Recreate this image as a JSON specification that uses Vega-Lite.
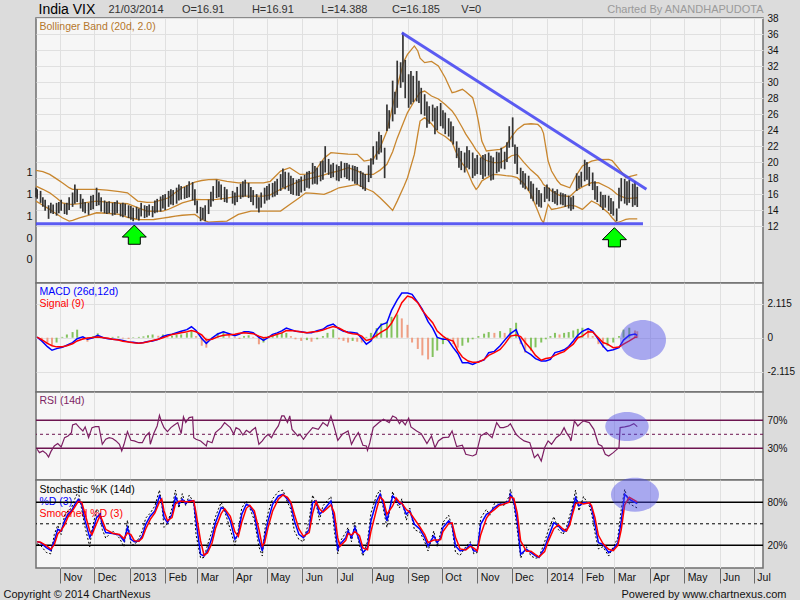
{
"$schema":"https://vega.github.io/schema/vega-lite/v6.json",
"autosize":{"type":"pad"},
"padding":{"left":2,"top":1,"right":10,"bottom":2},
"background":"#dcdcdc",
"spacing":0,
"bounds":"flush",
"config":{
 "view":{"fill":"#f6f6f6","stroke":"#6f6f6f","strokeWidth":1.5},
 "axis":{"labelFont":"Liberation Sans","labelFontSize":10,"labelColor":"#111","titleFont":"Liberation Sans","titleFontSize":10,"titleFontWeight":"normal","gridColor":"#e0e0e0","gridWidth":1,"domain":false,"ticks":false,"labelOverlap":false,"labelFlush":false,"labelBound":false}
},
"datasets":{
"px":[
{"d":"2012-10-11","l":15.6,"h":16.8},{"d":"2012-10-12","l":15.4,"h":16.6},{"d":"2012-10-15","l":14.9,"h":16.4},{"d":"2012-10-17","l":14.4,"h":15.6},{"d":"2012-10-19","l":13.9,"h":15.3},{"d":"2012-10-22","l":12.9,"h":14.6},{"d":"2012-10-24","l":13.6,"h":14.9},{"d":"2012-10-26","l":13.5,"h":14.7},{"d":"2012-10-29","l":13.3,"h":14.9},{"d":"2012-10-31","l":13.6,"h":15.0},
{"d":"2012-11-02","l":13.9,"h":15.3},{"d":"2012-11-05","l":13.5,"h":14.8},{"d":"2012-11-07","l":13.4,"h":14.9},{"d":"2012-11-09","l":14.0,"h":15.6},{"d":"2012-11-12","l":14.4,"h":16.2},{"d":"2012-11-14","l":14.8,"h":17.2},{"d":"2012-11-16","l":15.0,"h":16.6},{"d":"2012-11-19","l":14.2,"h":16.0},{"d":"2012-11-21","l":13.8,"h":15.4},{"d":"2012-11-23","l":13.6,"h":15.0},{"d":"2012-11-26","l":13.4,"h":14.9},{"d":"2012-11-28","l":14.0,"h":15.8},{"d":"2012-11-30","l":14.1,"h":15.9},
{"d":"2012-12-03","l":14.5,"h":16.8},{"d":"2012-12-05","l":14.6,"h":16.2},{"d":"2012-12-07","l":13.8,"h":15.6},{"d":"2012-12-10","l":13.6,"h":15.2},{"d":"2012-12-12","l":13.5,"h":15.0},{"d":"2012-12-14","l":13.6,"h":15.1},{"d":"2012-12-17","l":13.3,"h":14.9},{"d":"2012-12-19","l":13.4,"h":15.0},{"d":"2012-12-21","l":13.6,"h":15.2},{"d":"2012-12-24","l":13.2,"h":14.8},{"d":"2012-12-26","l":13.1,"h":14.9},{"d":"2012-12-28","l":13.3,"h":14.8},{"d":"2012-12-31","l":13.0,"h":14.6},
{"d":"2013-01-02","l":12.8,"h":14.5},{"d":"2013-01-04","l":12.6,"h":14.3},{"d":"2013-01-07","l":12.9,"h":14.4},{"d":"2013-01-09","l":12.7,"h":14.2},{"d":"2013-01-11","l":13.2,"h":14.9},{"d":"2013-01-14","l":13.0,"h":14.6},{"d":"2013-01-16","l":13.1,"h":14.5},{"d":"2013-01-18","l":13.3,"h":14.7},{"d":"2013-01-21","l":13.1,"h":14.5},{"d":"2013-01-23","l":13.6,"h":15.2},{"d":"2013-01-25","l":13.7,"h":15.4},{"d":"2013-01-28","l":13.8,"h":15.7},{"d":"2013-01-30","l":14.2,"h":15.9},
{"d":"2013-02-01","l":14.0,"h":16.0},{"d":"2013-02-04","l":14.4,"h":16.4},{"d":"2013-02-06","l":14.7,"h":16.6},{"d":"2013-02-08","l":14.6,"h":16.5},{"d":"2013-02-11","l":14.8,"h":16.8},{"d":"2013-02-13","l":15.2,"h":17.2},{"d":"2013-02-15","l":15.3,"h":17.0},{"d":"2013-02-18","l":15.4,"h":16.9},{"d":"2013-02-20","l":15.5,"h":17.1},{"d":"2013-02-22","l":15.6,"h":17.6},{"d":"2013-02-25","l":15.2,"h":17.5},{"d":"2013-02-27","l":14.6,"h":16.6},
{"d":"2013-03-01","l":13.6,"h":15.2},{"d":"2013-03-04","l":12.6,"h":14.4},{"d":"2013-03-06","l":12.8,"h":14.3},{"d":"2013-03-08","l":12.6,"h":14.6},{"d":"2013-03-11","l":13.5,"h":15.3},{"d":"2013-03-13","l":14.4,"h":16.3},{"d":"2013-03-15","l":15.1,"h":17.0},{"d":"2013-03-18","l":15.5,"h":17.8},{"d":"2013-03-20","l":15.6,"h":17.6},{"d":"2013-03-22","l":15.3,"h":17.2},{"d":"2013-03-25","l":15.0,"h":16.9},{"d":"2013-03-27","l":14.9,"h":16.6},
{"d":"2013-04-01","l":14.8,"h":16.4},{"d":"2013-04-03","l":14.6,"h":16.2},{"d":"2013-04-05","l":15.0,"h":16.9},{"d":"2013-04-08","l":15.4,"h":17.3},{"d":"2013-04-10","l":15.6,"h":17.6},{"d":"2013-04-12","l":15.7,"h":17.8},{"d":"2013-04-15","l":15.5,"h":17.4},{"d":"2013-04-17","l":15.0,"h":16.9},{"d":"2013-04-19","l":14.6,"h":16.5},{"d":"2013-04-22","l":14.2,"h":16.0},{"d":"2013-04-24","l":13.7,"h":15.6},{"d":"2013-04-26","l":14.3,"h":16.2},{"d":"2013-04-29","l":14.8,"h":16.8},
{"d":"2013-05-01","l":15.2,"h":17.0},{"d":"2013-05-03","l":15.3,"h":17.3},{"d":"2013-05-06","l":15.6,"h":17.4},{"d":"2013-05-08","l":15.7,"h":17.6},{"d":"2013-05-10","l":15.9,"h":17.9},{"d":"2013-05-13","l":16.4,"h":18.5},{"d":"2013-05-15","l":16.8,"h":19.2},{"d":"2013-05-17","l":16.6,"h":18.8},{"d":"2013-05-20","l":16.4,"h":18.7},{"d":"2013-05-22","l":16.0,"h":18.3},{"d":"2013-05-24","l":15.9,"h":18.0},{"d":"2013-05-27","l":15.8,"h":17.8},{"d":"2013-05-29","l":15.75,"h":17.9},{"d":"2013-05-31","l":16.2,"h":18.2},
{"d":"2013-06-03","l":16.4,"h":18.4},{"d":"2013-06-05","l":16.8,"h":18.8},{"d":"2013-06-07","l":16.7,"h":18.9},{"d":"2013-06-10","l":17.2,"h":19.9},{"d":"2013-06-12","l":17.3,"h":19.5},{"d":"2013-06-14","l":17.2,"h":19.3},{"d":"2013-06-17","l":17.6,"h":20.1},{"d":"2013-06-19","l":17.8,"h":20.2},{"d":"2013-06-21","l":18.7,"h":22.0},{"d":"2013-06-24","l":18.4,"h":20.4},{"d":"2013-06-26","l":18.0,"h":19.7},{"d":"2013-06-28","l":18.1,"h":19.9},
{"d":"2013-07-01","l":17.7,"h":19.7},{"d":"2013-07-03","l":17.6,"h":19.5},{"d":"2013-07-05","l":18.0,"h":20.1},{"d":"2013-07-08","l":18.1,"h":19.9},{"d":"2013-07-10","l":17.9,"h":19.9},{"d":"2013-07-12","l":17.7,"h":19.7},{"d":"2013-07-15","l":17.6,"h":19.6},{"d":"2013-07-17","l":17.3,"h":19.5},{"d":"2013-07-19","l":17.2,"h":19.4},{"d":"2013-07-22","l":16.9,"h":18.9},{"d":"2013-07-24","l":16.6,"h":18.7},{"d":"2013-07-26","l":16.4,"h":18.5},{"d":"2013-07-29","l":17.5,"h":19.6},{"d":"2013-07-31","l":18.0,"h":20.5},
{"d":"2013-08-02","l":19.7,"h":22.0},{"d":"2013-08-05","l":20.3,"h":22.6},{"d":"2013-08-07","l":21.0,"h":23.8},{"d":"2013-08-09","l":21.2,"h":23.4},{"d":"2013-08-12","l":18.0,"h":21.8},{"d":"2013-08-14","l":23.9,"h":27.2},{"d":"2013-08-16","l":24.2,"h":26.5},{"d":"2013-08-19","l":25.1,"h":30.2},{"d":"2013-08-21","l":26.0,"h":28.8},{"d":"2013-08-23","l":26.8,"h":32.7},{"d":"2013-08-26","l":29.3,"h":32.5},{"d":"2013-08-28","l":30.0,"h":36.2},{"d":"2013-08-30","l":28.0,"h":32.8},
{"d":"2013-09-02","l":26.8,"h":31.0},{"d":"2013-09-04","l":27.2,"h":31.4},{"d":"2013-09-06","l":27.5,"h":30.8},{"d":"2013-09-09","l":27.6,"h":31.4},{"d":"2013-09-11","l":27.4,"h":30.2},{"d":"2013-09-13","l":26.0,"h":29.3},{"d":"2013-09-16","l":25.8,"h":28.5},{"d":"2013-09-18","l":24.3,"h":27.6},{"d":"2013-09-20","l":24.8,"h":27.0},{"d":"2013-09-23","l":25.1,"h":27.2},{"d":"2013-09-25","l":23.5,"h":26.8},{"d":"2013-09-27","l":24.0,"h":27.0},{"d":"2013-09-30","l":24.5,"h":27.4},
{"d":"2013-10-02","l":24.2,"h":26.5},{"d":"2013-10-04","l":23.5,"h":26.2},{"d":"2013-10-07","l":23.2,"h":25.5},{"d":"2013-10-09","l":22.6,"h":25.1},{"d":"2013-10-11","l":22.2,"h":24.5},{"d":"2013-10-14","l":20.5,"h":22.6},{"d":"2013-10-16","l":19.3,"h":21.8},{"d":"2013-10-18","l":19.0,"h":21.4},{"d":"2013-10-21","l":18.7,"h":21.2},{"d":"2013-10-23","l":19.3,"h":22.0},{"d":"2013-10-25","l":19.1,"h":21.5},{"d":"2013-10-28","l":18.0,"h":21.2},{"d":"2013-10-30","l":18.3,"h":20.5},
{"d":"2013-11-01","l":18.5,"h":20.9},{"d":"2013-11-04","l":18.4,"h":20.6},{"d":"2013-11-06","l":17.9,"h":20.9},{"d":"2013-11-08","l":18.2,"h":21.0},{"d":"2013-11-11","l":18.3,"h":21.2},{"d":"2013-11-13","l":17.7,"h":20.8},{"d":"2013-11-15","l":17.8,"h":20.6},{"d":"2013-11-18","l":18.6,"h":21.3},{"d":"2013-11-20","l":18.8,"h":21.2},{"d":"2013-11-22","l":19.2,"h":21.8},{"d":"2013-11-25","l":19.1,"h":21.3},{"d":"2013-11-27","l":20.0,"h":22.5},{"d":"2013-11-29","l":21.8,"h":24.5},
{"d":"2013-12-02","l":21.9,"h":25.6},{"d":"2013-12-04","l":19.8,"h":22.2},{"d":"2013-12-06","l":18.5,"h":21.9},{"d":"2013-12-09","l":17.2,"h":19.3},{"d":"2013-12-11","l":16.8,"h":18.9},{"d":"2013-12-13","l":16.6,"h":18.6},{"d":"2013-12-16","l":16.4,"h":18.3},{"d":"2013-12-18","l":15.4,"h":17.6},{"d":"2013-12-20","l":15.1,"h":17.3},{"d":"2013-12-23","l":14.7,"h":16.8},{"d":"2013-12-25","l":14.4,"h":16.5},{"d":"2013-12-27","l":14.3,"h":16.1},{"d":"2013-12-30","l":15.0,"h":16.9},
{"d":"2014-01-01","l":15.4,"h":17.2},{"d":"2014-01-03","l":15.1,"h":16.8},{"d":"2014-01-06","l":15.0,"h":16.7},{"d":"2014-01-08","l":14.8,"h":16.4},{"d":"2014-01-10","l":14.6,"h":16.6},{"d":"2014-01-13","l":14.7,"h":16.2},{"d":"2014-01-15","l":14.6,"h":16.1},{"d":"2014-01-17","l":14.4,"h":16.0},{"d":"2014-01-20","l":14.2,"h":15.8},{"d":"2014-01-22","l":13.9,"h":15.6},{"d":"2014-01-24","l":14.1,"h":15.8},{"d":"2014-01-27","l":16.4,"h":18.6},{"d":"2014-01-29","l":16.7,"h":18.3},{"d":"2014-01-31","l":16.9,"h":18.8},
{"d":"2014-02-03","l":17.6,"h":20.3},{"d":"2014-02-05","l":17.8,"h":20.0},{"d":"2014-02-07","l":17.0,"h":19.4},{"d":"2014-02-10","l":16.5,"h":18.7},{"d":"2014-02-12","l":15.3,"h":17.6},{"d":"2014-02-14","l":15.0,"h":17.0},{"d":"2014-02-17","l":14.4,"h":16.3},{"d":"2014-02-19","l":14.0,"h":15.9},{"d":"2014-02-21","l":14.3,"h":15.9},{"d":"2014-02-24","l":13.9,"h":15.8},{"d":"2014-02-26","l":13.5,"h":15.5},{"d":"2014-02-28","l":13.3,"h":15.1},
{"d":"2014-03-03","l":12.6,"h":14.2},{"d":"2014-03-05","l":14.2,"h":16.8},{"d":"2014-03-07","l":15.1,"h":18.0},{"d":"2014-03-10","l":14.8,"h":17.9},{"d":"2014-03-12","l":14.6,"h":17.6},{"d":"2014-03-14","l":14.9,"h":17.8},{"d":"2014-03-17","l":14.4,"h":17.3},{"d":"2014-03-19","l":14.6,"h":17.6},{"d":"2014-03-21","l":14.388,"h":16.91}
],
"bb":[
{"d":"2012-10-11","u":18.97,"m":17.0,"lo":15.12},{"d":"2012-10-17","u":18.8,"m":16.6,"lo":14.6},{"d":"2012-10-23","u":18.46,"m":16.16,"lo":14.08},{"d":"2012-10-29","u":17.9,"m":15.5,"lo":13.5},{"d":"2012-11-03","u":17.41,"m":14.91,"lo":13.03},{"d":"2012-11-09","u":16.8,"m":14.75,"lo":12.61},{"d":"2012-11-12","u":16.58,"m":14.7,"lo":12.7},{"d":"2012-11-18","u":16.58,"m":14.8,"lo":13.03},{"d":"2012-11-25","u":16.58,"m":14.95,"lo":13.3},{"d":"2012-12-03","u":16.58,"m":15.12,"lo":13.66},{"d":"2012-12-12","u":16.5,"m":15.0,"lo":13.6},{"d":"2012-12-23","u":16.3,"m":14.85,"lo":13.45},{"d":"2012-12-30","u":16.16,"m":14.79,"lo":13.1},
{"d":"2013-01-08","u":15.12,"m":14.3,"lo":12.82},{"d":"2013-01-16","u":14.95,"m":13.87,"lo":12.8},{"d":"2013-01-22","u":15.0,"m":13.85,"lo":12.82},{"d":"2013-01-30","u":15.3,"m":13.87,"lo":13.0},{"d":"2013-02-04","u":15.54,"m":14.1,"lo":13.1},{"d":"2013-02-10","u":16.2,"m":14.5,"lo":13.24},{"d":"2013-02-16","u":16.79,"m":14.91,"lo":13.35},{"d":"2013-02-27","u":17.5,"m":15.33,"lo":13.45},{"d":"2013-03-05","u":17.7,"m":15.3,"lo":12.82},{"d":"2013-03-11","u":17.8,"m":15.3,"lo":12.49},{"d":"2013-03-18","u":17.83,"m":15.33,"lo":12.55},{"d":"2013-03-27","u":17.6,"m":15.5,"lo":12.61},{"d":"2013-04-06","u":17.41,"m":15.75,"lo":13.45},{"d":"2013-04-17","u":17.41,"m":15.75,"lo":13.87},{"d":"2013-04-28","u":17.41,"m":15.75,"lo":13.87},{"d":"2013-05-04","u":17.6,"m":15.9,"lo":13.87},
{"d":"2013-05-13","u":18.88,"m":16.6,"lo":13.87},{"d":"2013-05-21","u":19.3,"m":17.1,"lo":14.7},{"d":"2013-05-30","u":18.46,"m":17.63,"lo":15.6},{"d":"2013-06-04","u":18.5,"m":17.8,"lo":16.16},{"d":"2013-06-11","u":18.67,"m":18.05,"lo":16.1},{"d":"2013-06-20","u":20.5,"m":18.4,"lo":15.96},{"d":"2013-06-26","u":21.18,"m":18.67,"lo":16.3},{"d":"2013-07-03","u":21.1,"m":18.9,"lo":16.79},{"d":"2013-07-11","u":21.0,"m":19.3,"lo":17.0},{"d":"2013-07-19","u":20.97,"m":18.9,"lo":17.21},{"d":"2013-07-25","u":20.13,"m":18.46,"lo":16.79},{"d":"2013-08-02","u":20.34,"m":18.46,"lo":16.3},{"d":"2013-08-08","u":21.8,"m":19.0,"lo":15.54},{"d":"2013-08-14","u":23.89,"m":19.72,"lo":14.7},{"d":"2013-08-19","u":27.0,"m":21.3,"lo":13.95},{"d":"2013-08-23","u":29.5,"m":23.0,"lo":15.12},{"d":"2013-08-29","u":32.66,"m":25.14,"lo":17.0},
{"d":"2013-09-01","u":33.49,"m":26.2,"lo":18.05},{"d":"2013-09-07","u":34.54,"m":27.65,"lo":20.97},{"d":"2013-09-10","u":33.91,"m":28.3,"lo":23.5},{"d":"2013-09-12","u":33.0,"m":28.7,"lo":25.14},{"d":"2013-09-16","u":32.45,"m":28.9,"lo":25.56},{"d":"2013-09-22","u":32.6,"m":28.28,"lo":24.8},{"d":"2013-09-28","u":32.03,"m":27.9,"lo":23.7},{"d":"2013-10-04","u":30.57,"m":27.2,"lo":23.2},{"d":"2013-10-10","u":28.69,"m":26.4,"lo":22.5},{"d":"2013-10-13","u":28.8,"m":25.8,"lo":21.39},{"d":"2013-10-19","u":29.11,"m":24.31,"lo":19.8},{"d":"2013-10-22","u":28.8,"m":23.5,"lo":19.3},{"d":"2013-10-28","u":28.07,"m":22.22,"lo":17.3},{"d":"2013-10-31","u":26.5,"m":21.5,"lo":16.58},
{"d":"2013-11-02","u":25.14,"m":21.2,"lo":16.9},{"d":"2013-11-05","u":22.64,"m":20.55,"lo":17.63},{"d":"2013-11-09","u":21.39,"m":20.2,"lo":18.0},{"d":"2013-11-15","u":21.5,"m":19.93,"lo":18.46},{"d":"2013-11-21","u":21.6,"m":19.93,"lo":18.4},{"d":"2013-11-26","u":22.0,"m":20.3,"lo":18.3},{"d":"2013-12-01","u":23.2,"m":20.8,"lo":18.25},{"d":"2013-12-06","u":24.1,"m":20.97,"lo":18.05},{"d":"2013-12-12","u":24.72,"m":19.93,"lo":17.3},{"d":"2013-12-18","u":24.8,"m":19.0,"lo":15.96},{"d":"2013-12-24","u":24.72,"m":18.26,"lo":13.87},{"d":"2013-12-27","u":24.3,"m":17.7,"lo":12.8},{"d":"2013-12-29","u":23.6,"m":17.2,"lo":12.41},
{"d":"2014-01-02","u":20.13,"m":16.79,"lo":14.7},{"d":"2014-01-05","u":18.88,"m":16.4,"lo":14.08},{"d":"2014-01-10","u":17.7,"m":15.96,"lo":14.2},{"d":"2014-01-13","u":17.21,"m":15.8,"lo":14.29},{"d":"2014-01-21","u":16.79,"m":15.7,"lo":14.62},{"d":"2014-01-26","u":18.2,"m":16.38,"lo":14.5},{"d":"2014-02-01","u":19.51,"m":16.9,"lo":14.08},{"d":"2014-02-09","u":20.13,"m":17.42,"lo":15.13},{"d":"2014-02-15","u":20.3,"m":17.42,"lo":14.7},{"d":"2014-02-24","u":20.34,"m":16.79,"lo":13.6},{"d":"2014-02-27","u":20.2,"m":16.5,"lo":13.04},{"d":"2014-03-03","u":19.51,"m":16.0,"lo":12.41},{"d":"2014-03-07","u":18.8,"m":15.7,"lo":12.6},{"d":"2014-03-11","u":18.05,"m":15.5,"lo":12.83},{"d":"2014-03-14","u":18.2,"m":15.46,"lo":12.9},{"d":"2014-03-21","u":18.45,"m":15.54,"lo":12.9}
],
"macd":[
{"d":"2012-10-12","m":0.04,"s":0.04,"h":0,"c":"g"},{"d":"2012-10-16","m":-0.2,"s":-0.12,"h":-0.1,"c":"r"},{"d":"2012-10-21","m":-0.56,"s":-0.35,"h":-0.4,"c":"r"},{"d":"2012-10-25","m":-0.78,"s":-0.5,"h":-0.5,"c":"r"},{"d":"2012-10-29","m":-0.68,"s":-0.57,"h":-0.3,"c":"g"},{"d":"2012-11-03","m":-0.6,"s":-0.56,"h":0.05,"c":"g"},{"d":"2012-11-07","m":-0.47,"s":-0.5,"h":0.2,"c":"g"},{"d":"2012-11-12","m":-0.31,"s":-0.38,"h":0.35,"c":"g"},{"d":"2012-11-16","m":-0.06,"s":-0.2,"h":0.5,"c":"g"},{"d":"2012-11-21","m":0.05,"s":-0.08,"h":-0.1,"c":"r"},{"d":"2012-11-25","m":-0.1,"s":-0.02,"h":-0.25,"c":"r"},{"d":"2012-11-30","m":0.0,"s":0.02,"h":0.1,"c":"g"},
{"d":"2012-12-04","m":0.15,"s":0.04,"h":0.27,"c":"g"},{"d":"2012-12-09","m":0.0,"s":0.0,"h":0.05,"c":"r"},{"d":"2012-12-13","m":-0.06,"s":-0.04,"h":-0.05,"c":"r"},{"d":"2012-12-17","m":-0.09,"s":-0.1,"h":0.05,"c":"g"},{"d":"2012-12-22","m":-0.12,"s":-0.15,"h":0.08,"c":"g"},{"d":"2012-12-26","m":-0.17,"s":-0.22,"h":-0.05,"c":"r"},{"d":"2012-12-31","m":-0.26,"s":-0.27,"h":-0.08,"c":"r"},
{"d":"2013-01-04","m":-0.29,"s":-0.32,"h":0.03,"c":"g"},{"d":"2013-01-09","m":-0.34,"s":-0.35,"h":0.05,"c":"g"},{"d":"2013-01-13","m":-0.3,"s":-0.31,"h":0.08,"c":"g"},{"d":"2013-01-17","m":-0.23,"s":-0.25,"h":0.15,"c":"g"},{"d":"2013-01-21","m":-0.21,"s":-0.17,"h":0.2,"c":"g"},{"d":"2013-01-26","m":-0.1,"s":-0.1,"h":0.12,"c":"r"},{"d":"2013-01-30","m":0.08,"s":0.0,"h":0.2,"c":"g"},
{"d":"2013-02-03","m":0.17,"s":0.1,"h":0.05,"c":"r"},{"d":"2013-02-07","m":0.21,"s":0.2,"h":0.12,"c":"g"},{"d":"2013-02-11","m":0.31,"s":0.25,"h":0.18,"c":"g"},{"d":"2013-02-15","m":0.4,"s":0.31,"h":0.2,"c":"g"},{"d":"2013-02-20","m":0.5,"s":0.37,"h":0.3,"c":"g"},{"d":"2013-02-24","m":0.68,"s":0.44,"h":0.41,"c":"g"},{"d":"2013-02-28","m":0.45,"s":0.37,"h":0.1,"c":"r"},
{"d":"2013-03-05","m":-0.05,"s":0.17,"h":-0.5,"c":"r"},{"d":"2013-03-09","m":-0.35,"s":-0.14,"h":-0.62,"c":"r"},{"d":"2013-03-14","m":-0.02,"s":-0.1,"h":-0.1,"c":"g"},{"d":"2013-03-19","m":0.23,"s":0.05,"h":0.3,"c":"g"},{"d":"2013-03-24","m":0.37,"s":0.15,"h":0.41,"c":"g"},{"d":"2013-03-29","m":0.25,"s":0.18,"h":0.3,"c":"r"},
{"d":"2013-04-03","m":0.12,"s":0.21,"h":0.05,"c":"r"},{"d":"2013-04-07","m":0.23,"s":0.27,"h":-0.08,"c":"r"},{"d":"2013-04-11","m":0.37,"s":0.31,"h":0.1,"c":"g"},{"d":"2013-04-15","m":0.37,"s":0.27,"h":0.15,"c":"g"},{"d":"2013-04-19","m":0.31,"s":0.25,"h":0.05,"c":"r"},{"d":"2013-04-24","m":0.02,"s":0.1,"h":-0.41,"c":"r"},{"d":"2013-04-28","m":-0.17,"s":0.0,"h":-0.3,"c":"g"},
{"d":"2013-05-02","m":0.0,"s":0.03,"h":0.1,"c":"g"},{"d":"2013-05-06","m":0.21,"s":0.12,"h":0.2,"c":"g"},{"d":"2013-05-10","m":0.3,"s":0.21,"h":0.25,"c":"g"},{"d":"2013-05-14","m":0.42,"s":0.3,"h":0.3,"c":"g"},{"d":"2013-05-18","m":0.6,"s":0.45,"h":0.3,"c":"g"},{"d":"2013-05-22","m":0.5,"s":0.44,"h":0.1,"c":"r"},{"d":"2013-05-26","m":0.4,"s":0.41,"h":-0.1,"c":"r"},{"d":"2013-05-31","m":0.37,"s":0.35,"h":-0.2,"c":"r"},
{"d":"2013-06-05","m":0.31,"s":0.31,"h":-0.15,"c":"g"},{"d":"2013-06-09","m":0.31,"s":0.35,"h":-0.25,"c":"r"},{"d":"2013-06-14","m":0.44,"s":0.38,"h":-0.1,"c":"g"},{"d":"2013-06-19","m":0.52,"s":0.48,"h":0.1,"c":"g"},{"d":"2013-06-23","m":0.73,"s":0.58,"h":0.3,"c":"g"},{"d":"2013-06-28","m":0.85,"s":0.7,"h":0.52,"c":"g"},
{"d":"2013-07-03","m":0.55,"s":0.6,"h":-0.1,"c":"r"},{"d":"2013-07-07","m":0.4,"s":0.45,"h":-0.2,"c":"r"},{"d":"2013-07-11","m":0.35,"s":0.31,"h":-0.3,"c":"r"},{"d":"2013-07-15","m":0.33,"s":0.25,"h":-0.2,"c":"g"},{"d":"2013-07-19","m":0.28,"s":0.21,"h":-0.25,"c":"r"},{"d":"2013-07-23","m":-0.05,"s":0.1,"h":-0.3,"c":"r"},{"d":"2013-07-27","m":-0.4,"s":-0.17,"h":0.05,"c":"g"},{"d":"2013-07-31","m":-0.2,"s":-0.1,"h":0.3,"c":"g"},
{"d":"2013-08-05","m":0.45,"s":0.15,"h":0.6,"c":"g"},{"d":"2013-08-09","m":0.8,"s":0.35,"h":0.9,"c":"g"},{"d":"2013-08-14","m":0.93,"s":0.55,"h":1.0,"c":"g"},{"d":"2013-08-18","m":1.7,"s":0.9,"h":1.3,"c":"g"},{"d":"2013-08-23","m":2.35,"s":1.55,"h":1.45,"c":"g"},{"d":"2013-08-27","m":2.78,"s":2.18,"h":1.2,"c":"r"},
{"d":"2013-09-01","m":2.78,"s":2.59,"h":0.8,"c":"r"},{"d":"2013-09-05","m":2.7,"s":2.5,"h":-0.3,"c":"r"},{"d":"2013-09-10","m":2.2,"s":2.18,"h":-0.7,"c":"r"},{"d":"2013-09-14","m":1.76,"s":1.7,"h":-1.1,"c":"r"},{"d":"2013-09-19","m":1.0,"s":1.25,"h":-1.35,"c":"r"},{"d":"2013-09-23","m":0.6,"s":0.93,"h":-1.2,"c":"g"},{"d":"2013-09-27","m":0.02,"s":0.41,"h":-0.8,"c":"g"},
{"d":"2013-10-02","m":-0.1,"s":0.1,"h":-0.4,"c":"g"},{"d":"2013-10-06","m":-0.1,"s":-0.1,"h":-0.2,"c":"g"},{"d":"2013-10-11","m":-0.62,"s":-0.21,"h":-0.4,"c":"r"},{"d":"2013-10-15","m":-0.98,"s":-0.8,"h":-0.62,"c":"r"},{"d":"2013-10-19","m":-1.56,"s":-1.2,"h":-0.5,"c":"g"},{"d":"2013-10-24","m":-1.56,"s":-1.45,"h":-0.3,"c":"g"},{"d":"2013-10-28","m":-1.66,"s":-1.52,"h":-0.1,"c":"g"},
{"d":"2013-11-02","m":-1.5,"s":-1.52,"h":0.1,"c":"g"},{"d":"2013-11-07","m":-1.38,"s":-1.35,"h":0.25,"c":"g"},{"d":"2013-11-11","m":-0.93,"s":-1.1,"h":0.35,"c":"g"},{"d":"2013-11-16","m":-0.85,"s":-0.93,"h":0.3,"c":"r"},{"d":"2013-11-21","m":-0.5,"s":-0.73,"h":0.41,"c":"g"},{"d":"2013-11-25","m":-0.15,"s":-0.4,"h":0.3,"c":"r"},{"d":"2013-11-30","m":0.25,"s":0.1,"h":0.6,"c":"g"},
{"d":"2013-12-05","m":0.5,"s":0.17,"h":0.93,"c":"g"},{"d":"2013-12-09","m":-0.2,"s":0.07,"h":-0.4,"c":"r"},{"d":"2013-12-13","m":-0.83,"s":-0.3,"h":-0.93,"c":"r"},{"d":"2013-12-18","m":-1.05,"s":-0.7,"h":-0.8,"c":"g"},{"d":"2013-12-22","m":-1.3,"s":-1.1,"h":-0.6,"c":"g"},{"d":"2013-12-27","m":-1.45,"s":-1.4,"h":-0.3,"c":"g"},{"d":"2013-12-31","m":-1.45,"s":-1.3,"h":-0.1,"c":"g"},
{"d":"2014-01-04","m":-1.35,"s":-1.25,"h":0.1,"c":"g"},{"d":"2014-01-08","m":-0.93,"s":-1.1,"h":0.3,"c":"g"},{"d":"2014-01-12","m":-0.85,"s":-0.97,"h":0.2,"c":"r"},{"d":"2014-01-16","m":-0.75,"s":-0.87,"h":0.3,"c":"g"},{"d":"2014-01-20","m":-0.55,"s":-0.62,"h":0.35,"c":"g"},{"d":"2014-01-24","m":-0.21,"s":-0.4,"h":0.45,"c":"g"},{"d":"2014-01-28","m":0.15,"s":0.0,"h":0.55,"c":"g"},
{"d":"2014-02-01","m":0.4,"s":0.1,"h":0.62,"c":"g"},{"d":"2014-02-06","m":0.56,"s":0.37,"h":0.5,"c":"r"},{"d":"2014-02-10","m":0.4,"s":0.35,"h":0.1,"c":"r"},{"d":"2014-02-15","m":-0.1,"s":0.0,"h":-0.4,"c":"r"},{"d":"2014-02-19","m":-0.52,"s":-0.3,"h":-0.62,"c":"r"},{"d":"2014-02-23","m":-0.83,"s":-0.4,"h":-0.5,"c":"g"},{"d":"2014-02-28","m":-0.75,"s":-0.62,"h":-0.3,"c":"g"},
{"d":"2014-03-05","m":-0.62,"s":-0.58,"h":0.1,"c":"g"},{"d":"2014-03-09","m":-0.15,"s":-0.4,"h":0.5,"c":"g"},{"d":"2014-03-14","m":0.15,"s":-0.2,"h":0.62,"c":"g"},{"d":"2014-03-19","m":0.23,"s":0.02,"h":0.45,"c":"r"},{"d":"2014-03-21","m":0.15,"s":0.05,"h":0.4,"c":"r"}
],
"rsi":[
{"d":"2012-10-12","r":28.6},{"d":"2012-10-14","r":23.8},{"d":"2012-10-17","r":26.2},{"d":"2012-10-20","r":22.4},{"d":"2012-10-22","r":17.6},{"d":"2012-10-24","r":25.2},{"d":"2012-10-27","r":33.3},{"d":"2012-10-30","r":36.7},{"d":"2012-11-02","r":31.9},{"d":"2012-11-05","r":45.2},{"d":"2012-11-08","r":47.6},{"d":"2012-11-11","r":52.4},{"d":"2012-11-12","r":63.3},{"d":"2012-11-15","r":65.2},{"d":"2012-11-18","r":59.5},{"d":"2012-11-21","r":54.8},{"d":"2012-11-23","r":60.5},{"d":"2012-11-26","r":45.2},{"d":"2012-11-29","r":59.5},
{"d":"2012-12-02","r":61},{"d":"2012-12-05","r":61},{"d":"2012-12-08","r":35.7},{"d":"2012-12-11","r":42.9},{"d":"2012-12-14","r":45.2},{"d":"2012-12-17","r":44},{"d":"2012-12-20","r":40.5},{"d":"2012-12-23","r":35.7},{"d":"2012-12-25","r":26.2},{"d":"2012-12-27","r":35.7},{"d":"2012-12-30","r":53.8},
{"d":"2013-01-02","r":41.4},{"d":"2013-01-05","r":40.5},{"d":"2013-01-09","r":38},{"d":"2013-01-12","r":38},{"d":"2013-01-15","r":47.6},{"d":"2013-01-18","r":52.4},{"d":"2013-01-19","r":35.7},{"d":"2013-01-22","r":51},{"d":"2013-01-25","r":61.9},{"d":"2013-01-27","r":77.1},{"d":"2013-01-29","r":66.7},{"d":"2013-01-31","r":59.5},
{"d":"2013-02-03","r":53.8},{"d":"2013-02-06","r":59.5},{"d":"2013-02-09","r":63.3},{"d":"2013-02-12","r":66.7},{"d":"2013-02-15","r":51},{"d":"2013-02-17","r":74.8},{"d":"2013-02-19","r":66.7},{"d":"2013-02-22","r":73.8},{"d":"2013-02-25","r":74.8},{"d":"2013-02-26","r":45.2},{"d":"2013-02-28","r":42.9},
{"d":"2013-03-04","r":40.5},{"d":"2013-03-09","r":33.3},{"d":"2013-03-10","r":40.5},{"d":"2013-03-14","r":38},{"d":"2013-03-17","r":52.4},{"d":"2013-03-22","r":59.5},{"d":"2013-03-25","r":66.7},{"d":"2013-03-30","r":59.5},
{"d":"2013-04-02","r":50},{"d":"2013-04-04","r":59.5},{"d":"2013-04-07","r":57},{"d":"2013-04-10","r":49},{"d":"2013-04-13","r":55.7},{"d":"2013-04-16","r":52.4},{"d":"2013-04-18","r":55.7},{"d":"2013-04-21","r":59.5},{"d":"2013-04-24","r":35.7},{"d":"2013-04-27","r":40.5},{"d":"2013-04-29","r":45.2},
{"d":"2013-05-02","r":50},{"d":"2013-05-05","r":45.2},{"d":"2013-05-08","r":54.8},{"d":"2013-05-11","r":61.9},{"d":"2013-05-14","r":76.2},{"d":"2013-05-16","r":76.2},{"d":"2013-05-19","r":66.7},{"d":"2013-05-21","r":76.2},{"d":"2013-05-23","r":57},{"d":"2013-05-28","r":47.6},{"d":"2013-05-30","r":50},
{"d":"2013-06-02","r":42.9},{"d":"2013-06-05","r":50},{"d":"2013-06-10","r":59.5},{"d":"2013-06-15","r":57},{"d":"2013-06-19","r":66.7},{"d":"2013-06-23","r":61.9},{"d":"2013-06-26","r":76.2},{"d":"2013-06-29","r":59.5},
{"d":"2013-07-02","r":41.4},{"d":"2013-07-06","r":50},{"d":"2013-07-11","r":54.8},{"d":"2013-07-14","r":35.7},{"d":"2013-07-17","r":45.2},{"d":"2013-07-20","r":52.4},{"d":"2013-07-24","r":34.3},{"d":"2013-07-27","r":33.3},{"d":"2013-07-28","r":27.1},{"d":"2013-07-30","r":37.6},
{"d":"2013-08-02","r":59.5},{"d":"2013-08-07","r":66.7},{"d":"2013-08-11","r":71.4},{"d":"2013-08-16","r":66.7},{"d":"2013-08-19","r":76.2},{"d":"2013-08-22","r":73.8},{"d":"2013-08-25","r":65.2},{"d":"2013-08-27","r":70},{"d":"2013-08-30","r":63.3},
{"d":"2013-09-02","r":72.9},{"d":"2013-09-04","r":60.5},{"d":"2013-09-09","r":54.8},{"d":"2013-09-13","r":51},{"d":"2013-09-18","r":36.7},{"d":"2013-09-22","r":47.6},{"d":"2013-09-25","r":31},{"d":"2013-09-28","r":40.5},
{"d":"2013-10-02","r":45.2},{"d":"2013-10-07","r":46},{"d":"2013-10-10","r":54.8},{"d":"2013-10-14","r":32.4},{"d":"2013-10-19","r":34.3},{"d":"2013-10-22","r":21.4},{"d":"2013-10-28","r":19},{"d":"2013-10-31","r":21.4},
{"d":"2013-11-04","r":47.6},{"d":"2013-11-09","r":52.4},{"d":"2013-11-14","r":45.2},{"d":"2013-11-18","r":66.7},{"d":"2013-11-21","r":59.5},{"d":"2013-11-24","r":59.5},{"d":"2013-11-28","r":61.9},{"d":"2013-11-30","r":65.2},
{"d":"2013-12-05","r":50},{"d":"2013-12-08","r":45.2},{"d":"2013-12-12","r":40.5},{"d":"2013-12-17","r":38},{"d":"2013-12-21","r":16.7},{"d":"2013-12-24","r":21.4},{"d":"2013-12-27","r":11.9},{"d":"2013-12-30","r":31},
{"d":"2014-01-02","r":40.5},{"d":"2014-01-05","r":35.7},{"d":"2014-01-09","r":45.2},{"d":"2014-01-13","r":50},{"d":"2014-01-16","r":59.5},{"d":"2014-01-18","r":52.4},{"d":"2014-01-21","r":45.2},{"d":"2014-01-22","r":40.5},{"d":"2014-01-25","r":69},{"d":"2014-01-28","r":61.9},{"d":"2014-01-31","r":66.7},
{"d":"2014-02-02","r":69},{"d":"2014-02-07","r":66.7},{"d":"2014-02-11","r":57},{"d":"2014-02-15","r":35.7},{"d":"2014-02-18","r":33.3},{"d":"2014-02-21","r":21.4},{"d":"2014-02-24","r":19},{"d":"2014-02-28","r":23.8},
{"d":"2014-03-05","r":31},{"d":"2014-03-06","r":59.5},{"d":"2014-03-10","r":60.5},{"d":"2014-03-14","r":61.9},{"d":"2014-03-18","r":65.2},{"d":"2014-03-21","r":61}
],
"sto":[
{"d":"2012-10-12","k":22,"dd":25.1,"sd":25},{"d":"2012-10-15","k":20,"dd":23.7,"sd":24.3},{"d":"2012-10-20","k":10,"dd":16.7,"sd":19.5},{"d":"2012-10-24","k":8,"dd":13,"sd":14.5},{"d":"2012-10-27","k":35,"dd":26,"sd":20.8},{"d":"2012-10-30","k":48,"dd":42.3,"sd":35.8},
{"d":"2012-11-02","k":35,"dd":40,"sd":40.9},{"d":"2012-11-05","k":62,"dd":54,"sd":48.4},{"d":"2012-11-08","k":68,"dd":63.3,"sd":59.6},{"d":"2012-11-11","k":72,"dd":67.9,"sd":66},{"d":"2012-11-14","k":85,"dd":77.2,"sd":73.5},{"d":"2012-11-17","k":95,"dd":84.2,"sd":81.4},{"d":"2012-11-20","k":70,"dd":77.2,"sd":80},{"d":"2012-11-23","k":45,"dd":54,"sd":63.3},{"d":"2012-11-27","k":18,"dd":30.7,"sd":40},{"d":"2012-11-29","k":42,"dd":37.7,"sd":34.9},
{"d":"2012-12-03","k":70,"dd":58.6,"sd":50.3},{"d":"2012-12-06","k":66,"dd":63.3,"sd":61.4},{"d":"2012-12-08","k":42,"dd":49.3,"sd":54.9},{"d":"2012-12-11","k":30,"dd":37.7,"sd":42.3},{"d":"2012-12-17","k":40,"dd":36.3,"sd":36.9},{"d":"2012-12-23","k":30,"dd":34.4,"sd":35.1},{"d":"2012-12-27","k":18,"dd":26,"sd":29.4},{"d":"2012-12-30","k":55,"dd":44.7,"sd":37.2},
{"d":"2013-01-02","k":22,"dd":28.4,"sd":34.9},{"d":"2013-01-05","k":20,"dd":25.1,"sd":26.5},{"d":"2013-01-09","k":30,"dd":26,"sd":25.6},{"d":"2013-01-12","k":40,"dd":33,"sd":30.2},{"d":"2013-01-15","k":58,"dd":49.3,"sd":42.8},{"d":"2013-01-19","k":65,"dd":60.9,"sd":56.2},{"d":"2013-01-23","k":75,"dd":67.9,"sd":65.1},{"d":"2013-01-27","k":97,"dd":88.8,"sd":80.5},{"d":"2013-01-29","k":78,"dd":81.9,"sd":84.6},{"d":"2013-01-31","k":45,"dd":58.6,"sd":68},
{"d":"2013-02-03","k":50,"dd":51.6,"sd":54.4},{"d":"2013-02-07","k":72,"dd":63.3,"sd":58.6},{"d":"2013-02-10","k":97,"dd":87.4,"sd":77.7},{"d":"2013-02-13","k":72,"dd":77.2,"sd":81.3},{"d":"2013-02-16","k":92,"dd":84.2,"sd":81.4},{"d":"2013-02-19","k":75,"dd":78.1,"sd":80.6},{"d":"2013-02-22","k":90,"dd":82.8,"sd":80.9},{"d":"2013-02-26","k":80,"dd":81.9,"sd":82.2},{"d":"2013-02-28","k":35,"dd":54,"sd":65.2},
{"d":"2013-03-04","k":2,"dd":7.4,"sd":26},{"d":"2013-03-07","k":3,"dd":5.1,"sd":6.1},{"d":"2013-03-10","k":20,"dd":12.1,"sd":9.3},{"d":"2013-03-14","k":40,"dd":30.7,"sd":23.2},{"d":"2013-03-17","k":60,"dd":51.6,"sd":43.3},{"d":"2013-03-22","k":80,"dd":72.6,"sd":64.2},{"d":"2013-03-25","k":68,"dd":70.2,"sd":71.1},{"d":"2013-03-30","k":42,"dd":54,"sd":60.5},
{"d":"2013-04-03","k":20,"dd":28.4,"sd":38.6},{"d":"2013-04-06","k":42,"dd":35.3,"sd":32.6},{"d":"2013-04-09","k":72,"dd":63.3,"sd":52.1},{"d":"2013-04-13","k":82,"dd":77.2,"sd":71.6},{"d":"2013-04-16","k":72,"dd":74.9,"sd":75.8},{"d":"2013-04-20","k":55,"dd":63.3,"sd":68},{"d":"2013-04-24","k":18,"dd":28.4,"sd":42.3},{"d":"2013-04-27","k":5,"dd":12.1,"sd":18.7},{"d":"2013-04-29","k":40,"dd":30.7,"sd":23.2},
{"d":"2013-05-02","k":65,"dd":54,"sd":44.7},{"d":"2013-05-06","k":85,"dd":77.2,"sd":67.9},{"d":"2013-05-11","k":95,"dd":88.8,"sd":84.2},{"d":"2013-05-15","k":97,"dd":91.2,"sd":90.2},{"d":"2013-05-19","k":80,"dd":84.2,"sd":87},{"d":"2013-05-22","k":70,"dd":77.2,"sd":80},{"d":"2013-05-25","k":40,"dd":54,"sd":63.3},{"d":"2013-05-29","k":28,"dd":35.3,"sd":42.8},
{"d":"2013-06-02","k":25,"dd":30.7,"sd":32.5},{"d":"2013-06-07","k":55,"dd":42.3,"sd":37.7},{"d":"2013-06-10","k":90,"dd":79.5,"sd":64.6},{"d":"2013-06-13","k":78,"dd":81.9,"sd":80.9},{"d":"2013-06-16","k":55,"dd":63.3,"sd":70.8},{"d":"2013-06-19","k":75,"dd":67.9,"sd":66},{"d":"2013-06-26","k":88,"dd":81.9,"sd":76.3},{"d":"2013-06-29","k":40,"dd":54,"sd":65.2},
{"d":"2013-07-02","k":8,"dd":14.4,"sd":30.2},{"d":"2013-07-04","k":25,"dd":21.4,"sd":18.6},{"d":"2013-07-09","k":38,"dd":30.7,"sd":27},{"d":"2013-07-11","k":45,"dd":40,"sd":36.3},{"d":"2013-07-14","k":25,"dd":30.7,"sd":34.4},{"d":"2013-07-17","k":52,"dd":44.7,"sd":39.1},{"d":"2013-07-21","k":20,"dd":26,"sd":33.5},{"d":"2013-07-24","k":5,"dd":9.8,"sd":16.3},{"d":"2013-07-28","k":25,"dd":16.7,"sd":13.9},{"d":"2013-07-31","k":65,"dd":54,"sd":39.1},
{"d":"2013-08-05","k":90,"dd":81.9,"sd":70.7},{"d":"2013-08-08","k":97,"dd":91.2,"sd":87.5},{"d":"2013-08-11","k":70,"dd":77.2,"sd":82.8},{"d":"2013-08-14","k":45,"dd":54,"sd":63.3},{"d":"2013-08-19","k":95,"dd":88.8,"sd":74.9},{"d":"2013-08-22","k":80,"dd":84.2,"sd":86},{"d":"2013-08-25","k":72,"dd":77.2,"sd":80},{"d":"2013-08-27","k":85,"dd":79.5,"sd":78.6},{"d":"2013-08-31","k":55,"dd":63.3,"sd":69.8},
{"d":"2013-09-03","k":72,"dd":67.9,"sd":66},{"d":"2013-09-07","k":42,"dd":49.3,"sd":56.8},{"d":"2013-09-12","k":38,"dd":42.3,"sd":45.1},{"d":"2013-09-16","k":25,"dd":30.7,"sd":35.3},{"d":"2013-09-19","k":12,"dd":19.1,"sd":23.8},{"d":"2013-09-24","k":40,"dd":33,"sd":27.4},{"d":"2013-09-27","k":18,"dd":23.7,"sd":27.4},{"d":"2013-09-30","k":38,"dd":30.7,"sd":27.9},
{"d":"2013-10-02","k":52,"dd":44.7,"sd":39.1},{"d":"2013-10-07","k":62,"dd":54,"sd":50.3},{"d":"2013-10-10","k":45,"dd":49.3,"sd":51.2},{"d":"2013-10-13","k":10,"dd":19.1,"sd":31.2},{"d":"2013-10-17","k":6,"dd":12.1,"sd":14.9},{"d":"2013-10-22","k":18,"dd":14.4,"sd":13.4},{"d":"2013-10-26","k":25,"dd":21.4,"sd":18.6},{"d":"2013-10-29","k":8,"dd":12.1,"sd":15.9},
{"d":"2013-11-01","k":10,"dd":12.1,"sd":12.1},{"d":"2013-11-04","k":58,"dd":49.3,"sd":34.4},{"d":"2013-11-09","k":70,"dd":63.3,"sd":57.7},{"d":"2013-11-12","k":62,"dd":65.6,"sd":64.7},{"d":"2013-11-16","k":78,"dd":72.6,"sd":69.8},{"d":"2013-11-20","k":80,"dd":77.2,"sd":75.3},{"d":"2013-11-24","k":75,"dd":77.2,"sd":77.2},{"d":"2013-11-29","k":88,"dd":81.9,"sd":80},{"d":"2013-11-30","k":98,"dd":91.2,"sd":87.5},
{"d":"2013-12-03","k":78,"dd":81.9,"sd":85.6},{"d":"2013-12-06","k":42,"dd":54,"sd":65.2},{"d":"2013-12-09","k":2,"dd":7.4,"sd":26},{"d":"2013-12-14","k":18,"dd":14.4,"sd":11.6},{"d":"2013-12-18","k":5,"dd":9.8,"sd":11.7},{"d":"2013-12-22","k":2,"dd":5.1,"sd":7},{"d":"2013-12-25","k":3,"dd":2.8,"sd":3.7},{"d":"2013-12-30","k":25,"dd":16.7,"sd":11.1},
{"d":"2014-01-02","k":40,"dd":30.7,"sd":25.1},{"d":"2014-01-07","k":60,"dd":51.6,"sd":43.3},{"d":"2014-01-11","k":42,"dd":47,"sd":48.8},{"d":"2014-01-15","k":35,"dd":40,"sd":42.8},{"d":"2014-01-18","k":45,"dd":40,"sd":40},{"d":"2014-01-21","k":62,"dd":54,"sd":48.4},{"d":"2014-01-23","k":72,"dd":65.6,"sd":61},{"d":"2014-01-26","k":97,"dd":86.5,"sd":78.1},{"d":"2014-01-29","k":68,"dd":74.9,"sd":79.5},
{"d":"2014-02-02","k":88,"dd":79.5,"sd":77.7},{"d":"2014-02-07","k":75,"dd":79.5,"sd":79.5},{"d":"2014-02-09","k":65,"dd":72.6,"sd":75.4},{"d":"2014-02-12","k":38,"dd":49.3,"sd":58.6},{"d":"2014-02-15","k":15,"dd":23.7,"sd":33.9},{"d":"2014-02-19","k":18,"dd":21.4,"sd":22.3},{"d":"2014-02-24","k":5,"dd":9.8,"sd":14.5},{"d":"2014-02-28","k":18,"dd":14.4,"sd":12.5},
{"d":"2014-03-04","k":30,"dd":23.7,"sd":20},{"d":"2014-03-07","k":70,"dd":54,"sd":41.9},{"d":"2014-03-10","k":98,"dd":91.2,"sd":76.3},{"d":"2014-03-14","k":78,"dd":84.2,"sd":87},{"d":"2014-03-21","k":72,"dd":78.1,"sd":80.6}
]
},
"vconcat":[
{
 "width":727,"height":265,
 "resolve":{"axis":{"x":"independent","y":"independent"}},
 "layer":[
  {"data":{"name":"bb"},"mark":{"type":"line","color":"#c8862e","strokeWidth":1.3},
   "encoding":{
    "x":{"field":"d","type":"temporal","scale":{"domain":[{"year":2012,"month":10,"date":11},{"year":2014,"month":7,"date":9}]},"axis":{"orient":"bottom","grid":true,"labels":false,"title":null,"tickCount":{"interval":"month","step":1}}},
    "y":{"field":"u","type":"quantitative","scale":{"domain":[4.87,38.04],"nice":false,"zero":false},"axis":{"orient":"right","values":[12,14,16,18,20,22,24,26,28,30,32,34,36,38],"grid":true,"labelPadding":4,"title":null}}}},
  {"data":{"name":"bb"},"mark":{"type":"line","color":"#c8862e","strokeWidth":1.3},
   "encoding":{
    "x":{"field":"d","type":"temporal","scale":{"domain":[{"year":2012,"month":10,"date":11},{"year":2014,"month":7,"date":9}]},"axis":{"orient":"top","grid":false,"labels":false,"title":"India VIX","titleX":2,"titleY":-9,"titleAlign":"left","titleBaseline":"middle","titleFontSize":14,"titleColor":"#000"}},
    "y":{"field":"m","type":"quantitative","scale":{"domain":[4.87,38.04],"nice":false,"zero":false},"axis":{"orient":"left","values":[18.76,16,13.25,10.5,7.87],"labelExpr":"datum.value > 12 ? '1' : '0'","grid":false,"labelPadding":4,"labelFontSize":11,"title":null}}}},
  {"data":{"name":"bb"},"mark":{"type":"line","color":"#c8862e","strokeWidth":1.3},
   "encoding":{
    "x":{"field":"d","type":"temporal","scale":{"domain":[{"year":2012,"month":10,"date":11},{"year":2014,"month":7,"date":9}]},"axis":{"orient":"top","grid":false,"labels":false,"title":"21/03/2014\u00a0\u00a0\u00a0\u00a0\u00a0\u00a0O=16.91\u00a0\u00a0\u00a0\u00a0\u00a0\u00a0\u00a0\u00a0\u00a0H=16.91\u00a0\u00a0\u00a0\u00a0\u00a0\u00a0\u00a0\u00a0\u00a0L=14.388\u00a0\u00a0\u00a0\u00a0\u00a0\u00a0\u00a0\u00a0C=16.185\u00a0\u00a0\u00a0\u00a0\u00a0\u00a0\u00a0V=0","titleX":72,"titleY":-9,"titleAlign":"left","titleBaseline":"middle","titleFontSize":11,"titleColor":"#333"}},
    "y":{"field":"lo","type":"quantitative","scale":{"domain":[4.87,38.04],"nice":false,"zero":false},"axis":null}}},
  {"data":{"name":"px"},"mark":{"type":"rule","color":"#333333","strokeWidth":1.7},
   "encoding":{
    "x":{"field":"d","type":"temporal","scale":{"domain":[{"year":2012,"month":10,"date":11},{"year":2014,"month":7,"date":9}]},"axis":{"orient":"top","grid":false,"labels":false,"title":"Charted By ANANDHAPUDOTA","titleX":727,"titleY":-9,"titleAlign":"right","titleBaseline":"middle","titleFontSize":11,"titleColor":"#9a9a9a"}},
    "y":{"field":"l","type":"quantitative","scale":{"domain":[4.87,38.04],"nice":false,"zero":false},"axis":null},
    "y2":{"field":"h"}}},
  {"data":{"values":[{"id":"base","d":"2012-10-11","v":12.3},{"id":"base","d":"2014-03-26","v":12.3},{"id":"down","d":"2013-08-27","v":36.2},{"id":"down","d":"2014-03-29","v":16.6}]},
   "mark":{"type":"line","color":"#4a4af2","strokeWidth":3,"opacity":0.9},
   "encoding":{
    "x":{"field":"d","type":"temporal","scale":{"domain":[{"year":2012,"month":10,"date":11},{"year":2014,"month":7,"date":9}]},"axis":{"orient":"top","grid":false,"labels":false,"title":"Bollinger Band (20d, 2.0)","titleX":3,"titleY":8,"titleAlign":"left","titleBaseline":"middle","titleFontSize":10.5,"titleColor":"#b5772c"}},
    "y":{"field":"v","type":"quantitative","scale":{"domain":[4.87,38.04],"nice":false,"zero":false},"axis":null},
    "detail":{"field":"id"}}},
  {"data":{"values":[{"d":"2013-01-05","v":10.92},{"d":"2014-03-01","v":10.59}]},
   "mark":{"type":"point","shape":"M0,-0.8L1,0.2L0.5,0.2L0.5,0.8L-0.5,0.8L-0.5,0.2L-1,0.2Z","size":576,"filled":true,"fill":"#00ff00","stroke":"#000","strokeWidth":1,"opacity":1},
   "encoding":{
    "x":{"field":"d","type":"temporal","scale":{"domain":[{"year":2012,"month":10,"date":11},{"year":2014,"month":7,"date":9}]},"axis":null},
    "y":{"field":"v","type":"quantitative","scale":{"domain":[4.87,38.04],"nice":false,"zero":false},"axis":null}}}
 ]
},
{
 "width":727,"height":109,
 "resolve":{"axis":{"x":"independent","y":"independent"}},
 "layer":[
  {"data":{"name":"macd"},"mark":{"type":"rule","strokeWidth":2},
   "encoding":{
    "x":{"field":"d","type":"temporal","scale":{"domain":[{"year":2012,"month":10,"date":11},{"year":2014,"month":7,"date":9}]},"axis":{"orient":"bottom","grid":true,"labels":false,"title":null,"tickCount":{"interval":"month","step":1}}},
    "y":{"field":"h","type":"quantitative","scale":{"domain":[-3.378,3.403],"nice":false,"zero":false},"axis":{"orient":"right","values":[-2.115,0,2.115],"labelExpr":"datum.value == 0 ? '0' : (datum.value > 0 ? '2.115' : '-2.115')","grid":true,"labelPadding":4,"title":null}},
    "y2":{"datum":0},
    "color":{"field":"c","type":"nominal","scale":{"domain":["g","r"],"range":["#83c25e","#ef9f84"]},"legend":null}}},
  {"data":{"name":"macd"},"mark":{"type":"line","color":"#0000ff","strokeWidth":1.5},
   "encoding":{
    "x":{"field":"d","type":"temporal","scale":{"domain":[{"year":2012,"month":10,"date":11},{"year":2014,"month":7,"date":9}]},"axis":{"orient":"top","grid":false,"labels":false,"title":"MACD (26d,12d)","titleX":3,"titleY":8,"titleAlign":"left","titleBaseline":"middle","titleFontSize":10.5,"titleColor":"#0000ff"}},
    "y":{"field":"m","type":"quantitative","scale":{"domain":[-3.378,3.403],"nice":false,"zero":false},"axis":null}}},
  {"data":{"name":"macd"},"mark":{"type":"line","color":"#ff0000","strokeWidth":1.5},
   "encoding":{
    "x":{"field":"d","type":"temporal","scale":{"domain":[{"year":2012,"month":10,"date":11},{"year":2014,"month":7,"date":9}]},"axis":{"orient":"top","grid":false,"labels":false,"title":"Signal (9)","titleX":3,"titleY":20,"titleAlign":"left","titleBaseline":"middle","titleFontSize":10.5,"titleColor":"#ff0000"}},
    "y":{"field":"s","type":"quantitative","scale":{"domain":[-3.378,3.403],"nice":false,"zero":false},"axis":null}}},
  {"data":{"values":[{"d":"2014-03-26","v":-0.14}]},
   "mark":{"type":"point","shape":"M-1,0A1,0.87,0,1,0,1,0A1,0.87,0,1,0,-1,0Z","size":2116,"filled":true,"fill":"#4a4ae6","opacity":0.45,"strokeWidth":0},
   "encoding":{
    "x":{"field":"d","type":"temporal","scale":{"domain":[{"year":2012,"month":10,"date":11},{"year":2014,"month":7,"date":9}]},"axis":null},
    "y":{"field":"v","type":"quantitative","scale":{"domain":[-3.378,3.403],"nice":false,"zero":false},"axis":null}}}
 ]
},
{
 "width":727,"height":88,
 "resolve":{"axis":{"x":"independent","y":"independent"}},
 "layer":[
  {"data":{"values":[{"v":70},{"v":30}]},"mark":{"type":"rule","color":"#6d1550","strokeWidth":1.5},
   "encoding":{"y":{"field":"v","type":"quantitative","scale":{"domain":[-15.3,110.4],"nice":false,"zero":false},"axis":null}}},
  {"data":{"values":[{"v":50}]},"mark":{"type":"rule","color":"#6d1550","strokeWidth":1,"strokeDash":[3,3]},
   "encoding":{"y":{"field":"v","type":"quantitative","scale":{"domain":[-15.3,110.4],"nice":false,"zero":false},"axis":null}}},
  {"data":{"name":"rsi"},"mark":{"type":"line","color":"#7d1f63","strokeWidth":1.2},
   "encoding":{
    "x":{"field":"d","type":"temporal","scale":{"domain":[{"year":2012,"month":10,"date":11},{"year":2014,"month":7,"date":9}]},"axis":{"orient":"bottom","grid":true,"labels":false,"title":null,"tickCount":{"interval":"month","step":1}}},
    "y":{"field":"r","type":"quantitative","scale":{"domain":[-15.3,110.4],"nice":false,"zero":false},"axis":{"orient":"right","values":[30,70],"labelExpr":"datum.value + '%'","grid":false,"labelPadding":4,"title":null}}}},
  {"data":{"values":[{"d":"2014-03-12","v":61.1}]},
   "mark":{"type":"point","shape":"M-1,0A1,0.67,0,1,0,1,0A1,0.67,0,1,0,-1,0Z","size":1884,"filled":true,"fill":"#4a4ae6","opacity":0.45,"strokeWidth":0},
   "encoding":{
    "x":{"field":"d","type":"temporal","scale":{"domain":[{"year":2012,"month":10,"date":11},{"year":2014,"month":7,"date":9}]},"axis":{"orient":"top","grid":false,"labels":false,"title":"RSI (14d)","titleX":3,"titleY":8,"titleAlign":"left","titleBaseline":"middle","titleFontSize":10.5,"titleColor":"#7d1f63"}},
    "y":{"field":"v","type":"quantitative","scale":{"domain":[-15.3,110.4],"nice":false,"zero":false},"axis":null}}}
 ]
},
{
 "width":727,"height":88,
 "resolve":{"axis":{"x":"independent","y":"independent"}},
 "layer":[
  {"data":{"values":[{"v":80},{"v":20}]},"mark":{"type":"rule","color":"#000","strokeWidth":1.5},
   "encoding":{"y":{"field":"v","type":"quantitative","scale":{"domain":[-11.7,111.1],"nice":false,"zero":false},"axis":{"orient":"left","labels":false,"grid":false,"title":"Copyright © 2014 ChartNexus","titleAngle":0,"titleX":-33,"titleY":114,"titleAlign":"left","titleBaseline":"middle","titleFontSize":11,"titleColor":"#111"}}}},
  {"data":{"values":[{"v":50}]},"mark":{"type":"rule","color":"#000","strokeWidth":1,"strokeDash":[3,3]},
   "encoding":{"y":{"field":"v","type":"quantitative","scale":{"domain":[-11.7,111.1],"nice":false,"zero":false},"axis":null}}},
  {"data":{"name":"sto"},"mark":{"type":"line","color":"#000","strokeWidth":1,"strokeDash":[2,2]},
   "encoding":{
    "x":{"field":"d","type":"temporal","scale":{"domain":[{"year":2012,"month":10,"date":11},{"year":2014,"month":7,"date":9}]},"axis":{"orient":"bottom","grid":true,"labels":true,"ticks":true,"tickSize":15,"tickColor":"#6a6a6a","tickWidth":1,"labelPadding":-11,"labelAlign":"left","labelOffset":3,"labelBaseline":"top","labelFontSize":10.5,"labelExpr":"month(datum.value) == 0 ? timeFormat(datum.value, '%Y') : timeFormat(datum.value, '%b')","tickCount":{"interval":"month","step":1},"title":"Powered by www.chartnexus.com","titleX":750,"titleY":26,"titleAlign":"right","titleBaseline":"middle","titleFontSize":11,"titleColor":"#111"}},
    "y":{"field":"k","type":"quantitative","scale":{"domain":[-11.7,111.1],"nice":false,"zero":false},"axis":{"orient":"right","values":[20,80],"labelExpr":"datum.value + '%'","grid":false,"labelPadding":4,"title":null}}}},
  {"data":{"name":"sto"},"mark":{"type":"line","color":"#0000ff","strokeWidth":1.5},
   "encoding":{
    "x":{"field":"d","type":"temporal","scale":{"domain":[{"year":2012,"month":10,"date":11},{"year":2014,"month":7,"date":9}]},"axis":{"orient":"top","grid":false,"labels":false,"title":"Stochastic %K (14d)","titleX":3,"titleY":9,"titleAlign":"left","titleBaseline":"middle","titleFontSize":10.5,"titleColor":"#000"}},
    "y":{"field":"dd","type":"quantitative","scale":{"domain":[-11.7,111.1],"nice":false,"zero":false},"axis":null}}},
  {"data":{"name":"sto"},"mark":{"type":"line","color":"#ff0000","strokeWidth":1.5},
   "encoding":{
    "x":{"field":"d","type":"temporal","scale":{"domain":[{"year":2012,"month":10,"date":11},{"year":2014,"month":7,"date":9}]},"axis":{"orient":"top","grid":false,"labels":false,"title":"%D (3)","titleX":3,"titleY":21,"titleAlign":"left","titleBaseline":"middle","titleFontSize":10.5,"titleColor":"#0000ff"}},
    "y":{"field":"sd","type":"quantitative","scale":{"domain":[-11.7,111.1],"nice":false,"zero":false},"axis":null}}},
  {"data":{"values":[{"d":"2014-03-19","v":90.6}]},
   "mark":{"type":"point","shape":"M-1,0A1,0.71,0,1,0,1,0A1,0.71,0,1,0,-1,0Z","size":2304,"filled":true,"fill":"#4a4ae6","opacity":0.45,"strokeWidth":0},
   "encoding":{
    "x":{"field":"d","type":"temporal","scale":{"domain":[{"year":2012,"month":10,"date":11},{"year":2014,"month":7,"date":9}]},"axis":{"orient":"top","grid":false,"labels":false,"title":"Smoothed %D (3)","titleX":3,"titleY":33,"titleAlign":"left","titleBaseline":"middle","titleFontSize":10.5,"titleColor":"#ff0000"}},
    "y":{"field":"v","type":"quantitative","scale":{"domain":[-11.7,111.1],"nice":false,"zero":false},"axis":null}}}
 ]
}
]
}
